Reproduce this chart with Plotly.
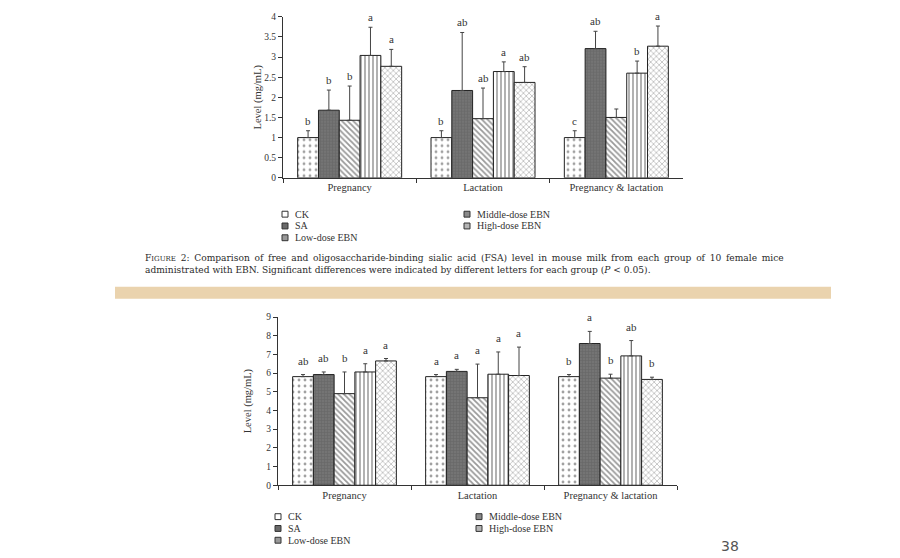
import plotly.graph_objects as go

W, H = 900, 558

categories = ["Pregnancy", "Lactation", "Pregnancy & lactation"]
groups = ["CK", "SA", "Low-dose EBN", "Middle-dose EBN", "High-dose EBN"]

# Figure 2 (top): FSA level (mg/mL)
fsa_ck = [1.00, 1.00, 1.00]
fsa_ck_sd = [0.17, 0.17, 0.17]
fsa_sa = [1.68, 2.17, 3.21]
fsa_sa_sd = [0.50, 1.44, 0.43]
fsa_low = [1.43, 1.47, 1.50]
fsa_low_sd = [0.85, 0.76, 0.21]
fsa_mid = [3.04, 2.64, 2.60]
fsa_mid_sd = [0.70, 0.24, 0.30]
fsa_high = [2.77, 2.37, 3.27]
fsa_high_sd = [0.42, 0.39, 0.50]
fsa_letters = [["b", "b", "c"], ["b", "ab", "ab"], ["b", "ab", ""], ["a", "a", "b"], ["a", "ab", "a"]]

# Bottom chart: level (mg/mL)
tsa_ck = [5.81, 5.81, 5.81]
tsa_ck_sd = [0.11, 0.11, 0.11]
tsa_sa = [5.92, 6.09, 7.58]
tsa_sa_sd = [0.14, 0.11, 0.65]
tsa_low = [4.90, 4.68, 5.73]
tsa_low_sd = [1.16, 1.80, 0.21]
tsa_mid = [6.06, 5.94, 6.92]
tsa_mid_sd = [0.44, 1.19, 0.82]
tsa_high = [6.65, 5.87, 5.66]
tsa_high_sd = [0.13, 1.52, 0.12]
tsa_letters = [["ab", "a", "b"], ["ab", "a", "a"], ["b", "a", "b"], ["a", "a", "ab"], ["a", "a", "b"]]

top_ticks = [0, 0.5, 1, 1.5, 2, 2.5, 3, 3.5, 4]
top_ticktext = ["0", "0.5", "1", "1.5", "2", "2.5", "3", "3.5", "4"]
bot_ticks = list(range(0, 10))

caption1_words = ("Comparison of free and oligosaccharide-binding sialic acid (FSA) level in mouse "
                  "milk from each group of 10 female mice").split(" ")
caption1 = "F<span style='font-size:7px'>IGURE</span> \u20092: \u2009" + " \u2009".join(caption1_words)
caption2 = ("administrated with EBN. Significant differences were indicated by different letters "
            "for each group (<i>P</i> &lt; 0.05).")

SERIF = "Liberation Serif"
TXT = "#333333"

patterns = [
    dict(shape=".", fgcolor="#444444", bgcolor="white", size=6, solidity=0.18),
    dict(shape="+", fgcolor="#5a5a5a", bgcolor="#747474", size=3, solidity=0.4),
    dict(shape="\\", fgcolor="#333333", bgcolor="white", size=4, solidity=0.45),
    dict(shape="|", fgcolor="#222222", bgcolor="white", size=4, solidity=0.35),
    dict(shape="x", fgcolor="#555555", bgcolor="white", size=4, solidity=0.3),
]
icon_fill = ["white", "#6a6a6a", "#999999", "#8a8a8a", "#b5b5b5"]

def px_x(p):
    return p / W

def px_y(p):
    return 1 - p / H

fig = go.Figure()

top_means = [fsa_ck, fsa_sa, fsa_low, fsa_mid, fsa_high]
top_sds = [fsa_ck_sd, fsa_sa_sd, fsa_low_sd, fsa_mid_sd, fsa_high_sd]
bot_means = [tsa_ck, tsa_sa, tsa_low, tsa_mid, tsa_high]
bot_sds = [tsa_ck_sd, tsa_sa_sd, tsa_low_sd, tsa_mid_sd, tsa_high_sd]

for axis_id, means, sds in [("", top_means, top_sds), ("2", bot_means, bot_sds)]:
    for i, g in enumerate(groups):
        fig.add_trace(go.Bar(
            x=categories, y=means[i], name=g,
            xaxis="x" + axis_id, yaxis="y" + axis_id,
            offsetgroup=str(i),
            marker=dict(color="white", pattern=patterns[i],
                        line=dict(color="#222222", width=1)),
            error_y=dict(type="data", symmetric=False, array=sds[i],
                         arrayminus=[0] * len(sds[i]),
                         color="#444444", thickness=1, width=2),
            showlegend=False,
        ))

def axis_common(tsize):
    return dict(
        showline=True, linecolor="#333333", linewidth=1,
        ticks="outside", ticklen=4, tickcolor="#333333",
        tickfont=dict(family=SERIF, size=tsize, color=TXT),
        showgrid=False, zeroline=False, fixedrange=True,
    )

fig.update_layout(
    width=W, height=H,
    margin=dict(l=0, r=0, t=0, b=0),
    paper_bgcolor="white", plot_bgcolor="white",
    barmode="group", bargap=0.22, bargroupgap=0,
    font=dict(family=SERIF, color=TXT),
    xaxis=dict(domain=[px_x(283), px_x(683)], anchor="y", tickson="boundaries", **axis_common(10.5)),
    yaxis=dict(domain=[px_y(176), px_y(12)], anchor="x", range=[0, 4],
               tickvals=top_ticks, ticktext=top_ticktext,
               title=dict(text="Level (mg/mL)", font=dict(family=SERIF, size=10.5, color=TXT), standoff=0),
               **axis_common(9.5)),
    xaxis2=dict(domain=[px_x(278), px_x(677)], anchor="y2", tickson="boundaries", **axis_common(10.5)),
    yaxis2=dict(domain=[px_y(489), px_y(317.7)], anchor="x2", range=[0, 9],
                tickvals=bot_ticks,
                title=dict(text="Level (mg/mL)", font=dict(family=SERIF, size=10.5, color=TXT), standoff=12),
                **axis_common(9.5)),
)

annotations = []
bar_w_top = 400 / 3 * 0.78 / 5
bar_w_bot = 399 / 3 * 0.78 / 5
for axis_id, means, sds, letters, bw, ys in [("", top_means, top_sds, fsa_letters, bar_w_top, 2),
                                              ("2", bot_means, bot_sds, tsa_letters, bar_w_bot, 6)]:
    for i in range(len(groups)):
        for j, c in enumerate(categories):
            if not letters[i][j]:
                continue
            annotations.append(dict(
                x=c, y=means[i][j] + sds[i][j], xref="x" + axis_id, yref="y" + axis_id,
                text=letters[i][j], showarrow=False, yanchor="bottom",
                xshift=(i - 2) * bw, yshift=ys,
                font=dict(family=SERIF, size=11, color=TXT),
            ))

# legends (manual, two columns)
shapes = []
def add_legend(col1_icon, col2_icon, row_ys):
    cols = [(col1_icon, row_ys[0]), (col1_icon, row_ys[1]), (col1_icon, row_ys[2]),
            (col2_icon, row_ys[0]), (col2_icon, row_ys[1])]
    for i, (cx, cy) in enumerate(cols):
        shapes.append(dict(type="rect", xref="paper", yref="paper",
                           x0=px_x(cx - 3), x1=px_x(cx + 3), y0=px_y(cy + 3), y1=px_y(cy - 3),
                           line=dict(color="#333333", width=1), fillcolor=icon_fill[i]))
        annotations.append(dict(x=px_x(cx + 8), y=px_y(cy), xref="paper", yref="paper",
                                text=groups[i], showarrow=False, xanchor="left", yanchor="middle",
                                font=dict(family=SERIF, size=10, color=TXT)))

add_legend(285, 467, [213, 225, 237])
add_legend(278, 479, [521, 533, 545])

CAP_FONT = dict(family="DejaVu Serif", size=9.1, color="#2a2a2a")
annotations.append(dict(x=px_x(143), y=px_y(258), xref="paper", yref="paper", text=caption1,
                        showarrow=False, xanchor="left", yanchor="middle", font=CAP_FONT))
annotations.append(dict(x=px_x(143), y=px_y(270), xref="paper", yref="paper", text=caption2,
                        showarrow=False, xanchor="left", yanchor="middle", font=CAP_FONT))

# tan page-divider stripe
shapes.append(dict(type="rect", xref="paper", yref="paper",
                   x0=px_x(115), x1=px_x(831), y0=px_y(299), y1=px_y(287),
                   line=dict(width=0), fillcolor="#ead3ae", layer="below"))

# page number
annotations.append(dict(x=px_x(730), y=px_y(558), xref="paper", yref="paper", text="38",
                        showarrow=False, xanchor="center", yanchor="bottom", yshift=-3,
                        font=dict(family="DejaVu Sans", size=14, color="#555555")))

fig.update_layout(annotations=annotations, shapes=shapes)
fig.write_html("out.html", config={"displayModeBar": False},
               post_script="document.body.style.margin='0';document.body.style.overflow='hidden';")
